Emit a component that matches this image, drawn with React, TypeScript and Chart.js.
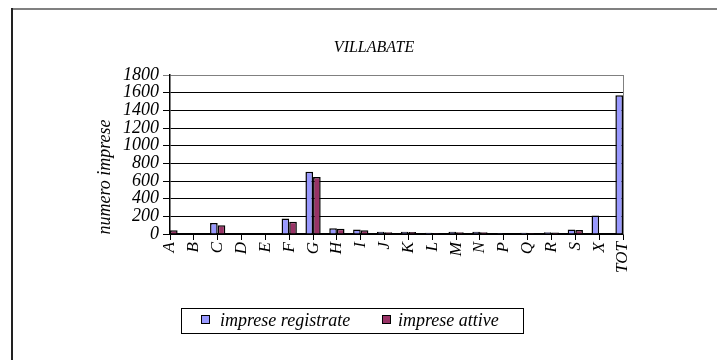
import React, { useEffect, useRef } from "react";
import { Chart, registerables } from "chart.js";

Chart.register(...registerables);

const categories = ["A", "B", "C", "D", "E", "F", "G", "H", "I", "J", "K", "L", "M", "N", "P", "Q", "R", "S", "X", "TOT"];
const impreseRegistrate = [50, 0, 125, 0, 5, 175, 705, 65, 50, 25, 25, 15, 25, 25, 10, 15, 20, 50, 210, 1570];
const impreseAttive = [42, 0, 100, 0, 4, 140, 645, 60, 42, 20, 22, 12, 20, 20, 8, 12, 18, 45, 5, 1300];
const yTicks = [0, 200, 400, 600, 800, 1000, 1200, 1400, 1600, 1800];
const chartTitle = "VILLABATE";
const yTitle = "numero imprese";
const seriesNames = ["imprese registrate", "imprese attive"];

const COL_REG = "#9999FF";
const COL_ATT = "#993366";
const FONT = "Liberation Serif";

const decor = {
  id: "decor",
  beforeDraw(chart: any) {
    const { ctx, width, height } = chart;
    ctx.save();
    ctx.fillStyle = "#fff";
    ctx.fillRect(0, 0, width, height);
    ctx.fillStyle = "#808080";
    ctx.fillRect(3, 0, width - 3, 2);
    ctx.fillStyle = "#222";
    ctx.fillRect(3, 0, 2, height);
    ctx.restore();
  },
  afterDraw(chart: any) {
    const { ctx, chartArea: a } = chart;
    ctx.save();
    ctx.strokeStyle = "#808080";
    ctx.lineWidth = 1;
    ctx.beginPath();
    ctx.moveTo(a.right + 0.5, a.top);
    ctx.lineTo(a.right + 0.5, a.bottom);
    ctx.stroke();
    ctx.fillStyle = "#000";
    ctx.font = `italic 16px "${FONT}"`;
    ctx.textAlign = "center";
    ctx.textBaseline = "middle";
    ctx.fillText(chartTitle, 366, 40);
    ctx.save();
    ctx.translate(97, 169);
    ctx.rotate(-Math.PI / 2);
    ctx.font = `italic 18px "${FONT}"`;
    ctx.fillText(yTitle, 0, 0);
    ctx.restore();
    ctx.strokeStyle = "#000";
    ctx.lineWidth = 1;
    ctx.strokeRect(173.5, 300.5, 342, 25);
    ctx.font = `italic 18px "${FONT}"`;
    ctx.textAlign = "left";
    ctx.textBaseline = "alphabetic";
    const items = [
      { x: 193, tx: 212, c: COL_REG, t: seriesNames[0] },
      { x: 374, tx: 390, c: COL_ATT, t: seriesNames[1] },
    ];
    for (const it of items) {
      ctx.fillStyle = it.c;
      ctx.fillRect(it.x, 307, 9, 9);
      ctx.strokeRect(it.x + 0.5, 307.5, 8, 8);
      ctx.fillStyle = "#000";
      ctx.fillText(it.t, it.tx, 318);
    }
    ctx.restore();
  },
};

export default function App() {
  const ref = useRef<HTMLCanvasElement | null>(null);
  useEffect(() => {
    if (!ref.current) return;
    const chart = new Chart(ref.current, {
      type: "bar",
      data: {
        labels: categories,
        datasets: [
          {
            label: seriesNames[0],
            data: impreseRegistrate,
            backgroundColor: COL_REG,
            borderColor: "#000",
            borderWidth: 1.5,
            categoryPercentage: 0.64,
            barPercentage: 1,
          },
          {
            label: seriesNames[1],
            data: impreseAttive,
            backgroundColor: COL_ATT,
            borderColor: "#000",
            borderWidth: 1.5,
            categoryPercentage: 0.64,
            barPercentage: 1,
          },
        ],
      },
      options: {
        animation: false,
        responsive: false,
        maintainAspectRatio: false,
        layout: { padding: { left: 0, top: 67, right: 102, bottom: 86 } },
        plugins: { legend: { display: false }, title: { display: false }, tooltip: { enabled: false } },
        scales: {
          x: {
            offset: false,
            grid: { offset: false, drawOnChartArea: false, drawTicks: true, tickLength: 6, color: "#000" },
            border: { color: "#000", width: 1.5 },
            ticks: {
              autoSkip: false,
              minRotation: 90,
              maxRotation: 90,
              color: "#000",
              padding: 2,
              font: { family: FONT, style: "italic", size: 17 },
            },
            afterFit(s: any) {
              s.height = 40;
            },
          },
          y: {
            min: 0,
            max: 1800,
            afterBuildTicks(s: any) {
              s.ticks = yTicks.map((v) => ({ value: v }));
            },
            grid: {
              color: (c: any) => (c.tick && c.tick.value === 1800 ? "#808080" : "#000"),
              lineWidth: 1,
              tickLength: 7,
            },
            border: { color: "#000", width: 1.5 },
            ticks: {
              autoSkip: false,
              color: "#000",
              padding: 4,
              font: { family: FONT, style: "italic", size: 18 },
              callback: (v: any) => String(v),
            },
            afterFit(s: any) {
              s.width = 162;
            },
          },
        },
      },
      plugins: [decor],
    });
    return () => chart.destroy();
  }, []);
  return (
    <div style={{ width: 717, height: 352 }}>
      <canvas ref={ref} width={717} height={352} style={{ display: "block", width: 717, height: 352 }} />
    </div>
  );
}
